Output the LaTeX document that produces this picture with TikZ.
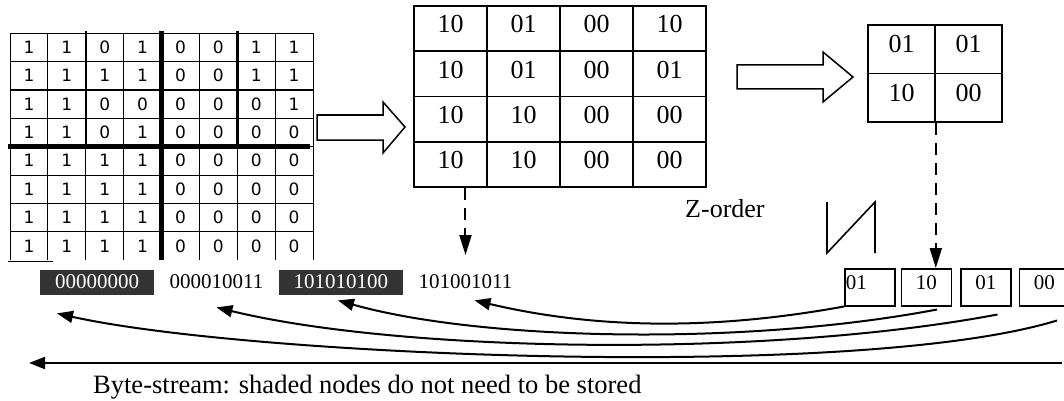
\documentclass[tikz,border=0pt]{standalone}
\usepackage{fontspec}
\setmainfont{Liberation Serif}
\newfontfamily\gridfont{DejaVu Sans}
\usetikzlibrary{arrows.meta,positioning,calc}

\begin{document}
\begin{tikzpicture}[x=1pt,y=-1pt,
  bit/.style={font=\gridfont\fontsize{17}{17}\selectfont,inner sep=0},
  cell/.style={draw,line width=1.6pt,minimum width=73pt,minimum height=45.25pt,inner sep=0,
    text height=27pt,text depth=18.25pt,font=\fontsize{26}{26}\selectfont},
  qcell/.style={cell,minimum width=67pt,minimum height=48.5pt,text height=28pt,text depth=20.5pt},
  byte/.style={font=\fontsize{21}{21}\selectfont,inner xsep=15pt,inner ysep=0,
    text height=18pt,text depth=7pt},
  dark/.style={byte,fill=black!80,text=white},
  sbox/.style={draw,line width=1.5pt,font=\fontsize{21}{21}\selectfont,minimum width=50pt,
    inner ysep=0,text height=21pt,text depth=16pt},
  hollow/.style={draw,line width=1.5pt,fill=white},
  dasharrow/.style={line width=2pt,dash pattern=on 12pt off 8pt,-{Triangle[length=20pt,width=12pt]}},
  stream/.style={line width=2pt,-{Triangle[length=16pt,width=12pt]}}]
\useasboundingbox (0,0) rectangle (1064,401);
\def\cw{37.875} % bit cell width
\def\rh{28.4}   % bit cell height
% 8x8 bit plane
\foreach \row [count=\r] in {{1,1,0,1,0,0,1,1},{1,1,1,1,0,0,1,1},{1,1,0,0,0,0,0,1},{1,1,0,1,0,0,0,0},
    {1,1,1,1,0,0,0,0},{1,1,1,1,0,0,0,0},{1,1,1,1,0,0,0,0},{1,1,1,1,0,0,0,0}}
  \foreach \v [count=\c] in \row
    \node[bit] (g-\r-\c) at ({10+\cw*(\c-0.5)},{33+\rh*(\r-0.5)}) {\v};
\foreach \i in {0,...,8} \draw[line width=0.8pt] ({10+\i*\cw},33) -- ({10+\i*\cw},260);
\foreach \j in {0,...,7} \draw[line width=0.8pt] (10,{33+\j*\rh}) -- (313,{33+\j*\rh});
\draw[line width=0.8pt] (8,261) -- (53,261);
% quadrant borders
\draw[line width=2.5pt] ({10+2*\cw},31) -- ({10+2*\cw},{33+4*\rh});
\draw[line width=2.5pt] ({10+6*\cw},31) -- ({10+6*\cw},{33+4*\rh});
\draw[line width=2.5pt] (10,{33+2*\rh}) -- (313,{33+2*\rh});
\draw[line width=4.5pt] ({10+4*\cw},31) -- ({10+4*\cw},260);
\draw[line width=4.5pt] (8,{33+4*\rh}) -- (310,{33+4*\rh});
% first level
\draw[hollow] (317,115) -- (383,115) -- (383,102) -- (405,127) -- (383,153) -- (383,140) -- (317,140) -- cycle;
\foreach \row [count=\r] in {{10,01,00,10},{10,01,00,01},{10,10,00,00},{10,10,00,00}}
  \foreach \v [count=\c] in \row
    \node[cell] (m-\r-\c) at ({414+73*(\c-0.5)},{6+45.25*(\r-0.5)}) {\v};
% second level
\draw[hollow] (737,65) -- (823,65) -- (823,52) -- (853,77) -- (823,102) -- (823,89) -- (737,89) -- cycle;
\foreach \row [count=\r] in {{01,01},{10,00}}
  \foreach \v [count=\c] in \row
    \node[qcell] (q-\r-\c) at ({868+67*(\c-0.5)},{25+48.5*(\r-0.5)}) {\v};
% Z-order
\node[anchor=base west,inner sep=0,font=\fontsize{26}{26}\selectfont] (zlabel) at (685,217) {Z-order};
\draw[line width=1.6pt] (827,202) -- (827,253) -- (875,202) -- (875,253);
% stored bytes
\node[dark,anchor=north west] (b1) at (40,270) {00000000};
\node[byte,right=0pt of b1] (b2) {000010011};
\node[dark,right=0pt of b2] (b3) {101010100};
\node[byte,right=0pt of b3] (b4) {101001011};
% tree nodes in z-order
\node[sbox,anchor=north west,text width=48pt,align=left,inner xsep=1pt] (s1) at (844,268) {01};
\node[sbox,right=5pt of s1] (s2) {10};
\node[sbox,right=8pt of s2] (s3) {01};
\node[sbox,right=7pt of s3] (s4) {00};
\draw[dasharrow] (m-4-1.south -| b4.north) -- ([yshift=15pt]b4.north);
\draw[dasharrow] (q-2-1.south east) -- (q-2-1.south east |- s2.north);
% byte-stream
\draw[stream] (s1.south west) .. controls +(-148,27) and +(106,25) .. ($(b4.south)+(9,5)$);
\draw[stream] ($(s2.south east)+(-15,3)$) .. controls +(-195,37) and +(142,40) .. ($(b3.south)+(-3,5)$);
\draw[stream] ($(s3.south east)+(-14,8)$) .. controls +(-234,44) and +(185,45) .. ($(b2.south)+(0,12)$);
\draw[stream] ($(s4.south east)+(-13,14)$) .. controls +(-199,61) and +(193,43) .. ($(b1.south west)+(17,18)$);
\coordinate (bsR) at (1062,363);
\coordinate (bsL) at (29,363);
\draw[stream] (bsR) -- (bsL);
\node[anchor=base west,inner sep=0,font=\fontsize{26.5}{26.5}\selectfont] (bslabel) at (93,393)
  {Byte-stream: shaded nodes do not need to be stored};
\end{tikzpicture}
\end{document}
